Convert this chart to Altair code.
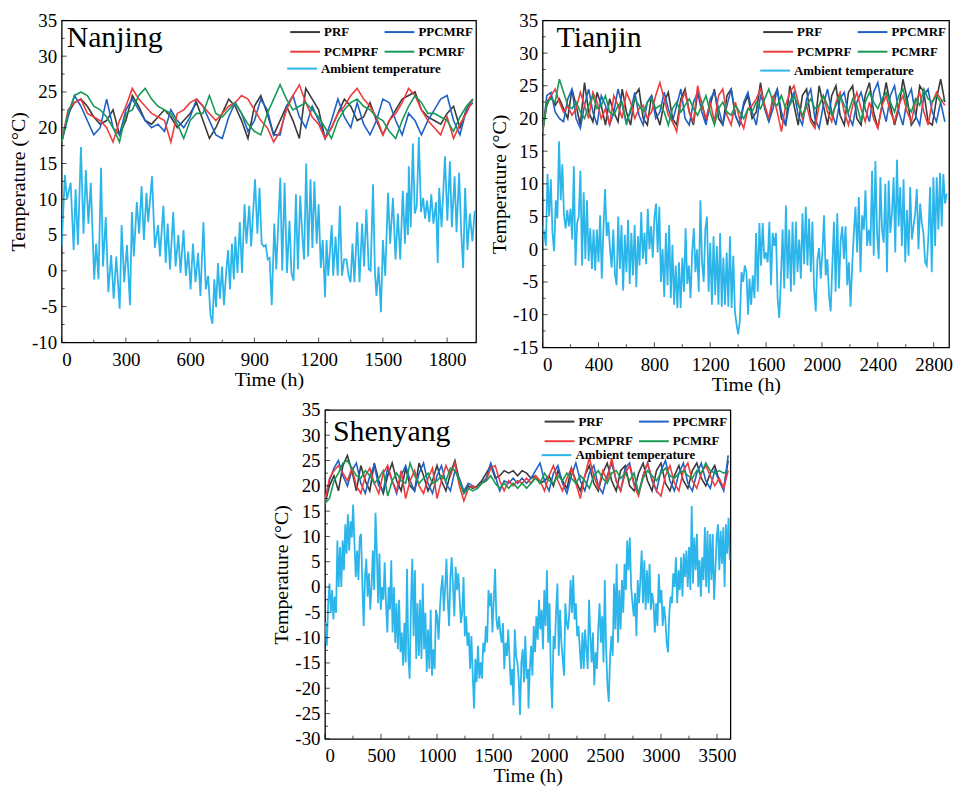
import altair as alt
import pandas as pd

FONT = "Liberation Serif"
# legend fills column by column: (PRF, PCMPRF) in column 1, (PPCMRF, PCMRF) in column 2
IN_NAMES = ["PRF", "PCMPRF", "PPCMRF", "PCMRF"]
IN_COLORS = ["#3a3a3a", "#f03c3c", "#1f62c6", "#179a55"]
AMB_NAME = "Ambient temperature"
AMB_COLOR = "#2cb5ea"

# ---------------- Nanjing ----------------
nj_amb_t = [0,15,25,42,56,65,76,90,102,113,125,136,152,161,172,184,193,206,218,231,
            243,255,271,280,292,305,319,328,337,351,362,373,384,396,404,422,435,450,459,475,
            486,495,506,521,532,545,555,569,580,591,602,613,625,637,648,662,673,684,695,704,
            713,721,730,739,749,758,767,777,786,795,804,811,821,832,842,854,863,876,885,903,
            914,924,934,944,953,962,971,981,993,1002,1021,1030,1041,1052,1064,1073,1083,1094,1103,1114,
            1125,1132,1142,1151,1162,1171,1180,1191,1200,1210,1219,1230,1237,1245,1261,1268,1279,1289,1299,1309,
            1319,1330,1340,1349,1358,1367,1380,1391,1403,1412,1423,1434,1443,1454,1463,1470,1480,1491,1500,1511,
            1524,1534,1547,1559,1570,1581,1593,1603,1612,1617,1621,1630,1640,1649,1658,1668,1678,1688,1697,1706,
            1717,1726,1736,1748,1756,1763,1774,1790,1801,1813,1822,1835,1844,1856,1866,1875,1884,1895,1906,1918,1929]
nj_amb_v = [3.4,13.4,10,12.3,2.9,11.4,3.6,17.3,5.2,14.1,6.6,12.3,-1.2,3.8,-1.2,14.4,0.6,7.5,-3,2.2,
            -3.9,2,-5.3,6.4,-1.6,3.6,-4.8,8.2,2,9.6,5.2,11.8,4.3,10.9,6.8,13.2,3.2,6.4,2,9.1,
            1.1,6.6,0.2,8.2,0.6,5,-0.3,5.7,-0.7,2.7,-2.6,3.8,-1.6,2.5,-3.5,6.8,-2.6,-0.7,-6.2,-7.4,
            -1.2,-5.1,1.1,-3.9,0.6,-4.8,-0.7,2.9,-2.6,3.8,-1.2,4.8,-0.3,6.8,-0.3,9.3,3.8,9.1,3.4,12.8,
            5.2,11.6,3.8,3.4,3.6,1.6,1.8,-4.8,6.6,0.2,13,0,12.3,-0.3,7,-0.3,-1.4,10.7,0.2,10.5,
            4.3,1.6,15,2,12.8,3.2,12.5,3.8,9.3,0.4,4.3,-3.7,4.3,-0.7,6.4,-0.7,4.8,-0.7,9.1,-0.7,
            1.6,1.6,-0.7,-1.6,3.8,-1.6,6.8,-1.6,6.6,0.6,8.6,0.2,0,12.1,-0.3,-3.5,0.6,-5.8,4.3,-0.7,
            10.9,3.8,10.2,1.6,8,1.6,11.2,3.8,10.9,5,14.6,6.1,17.8,8,9,18.7,8.2,10.2,7.3,9.8,
            6.8,10.7,6.6,9.6,1.1,11.6,6.1,16,7,15.3,6.1,13.2,5.4,13.7,5.2,0.4,11.6,2.9,8,4.1,8.4]
nj_step = 30
nj_prf = [18,22,23.5,24,23,21.5,20.5,21,22.5,19,21,24.5,23,21,20.5,21.5,22.5,21.5,20,21,
          22,23.5,21,18.5,20,22,24,23,21,18.5,23,24.5,22,19,21,23,21,18.5,25.5,24,
          22.5,18.5,20,22,24,23,21,21.5,23.5,21,19,21,22.5,24,24.5,25,22.5,21.5,21,20.5,
          22,23,20,22.5,24]
nj_ppcmrf = [18,21.5,24.5,23,21,19,20,24,20,19,22.5,24,22.5,21,20,20.5,19.5,22.5,21,20,
             21.5,24,23,21,19,18.5,21.5,23.5,22,19.5,21,24,22.5,19,19,23,24.5,21.5,20,23,
             21,18.5,21,24,21.5,20,23.5,20.5,19,21,24,23.5,21,19,22,21,19,21,22.5,24,
             24.5,21,19,22.5,23.5]
nj_pcmprf = [18,22.5,23.5,24,22,21.5,21,20,18,21,23,25.5,24,23,22,21.5,21,18,22,22.5,
             23.5,24,23,22,21,22,23,23.5,24.5,24,22.5,21,20,18,19.5,22.5,24.5,26,23.5,21.5,
             20.5,18.5,20,22,23,24.5,25.5,24,23,21.5,19,21,22,23.5,25.5,24.5,22.5,21,20,19,
             21.5,18.5,20.5,22,24]
nj_pcmrf = [18,22,24.5,25,24.5,23,22.5,21.5,20,18,22,22.5,24.5,25.5,24,23,22.5,22,20.5,18.5,
            21,22,22,24.5,22,21.5,22.5,23.5,22,20.5,19.5,19,22,24,26,24,22.5,23,23.5,22.5,
            21.5,20,18.5,21,22.5,23.5,24,23,22.5,21.5,21,19.5,18.5,21,23,24.5,23.5,22,22,21.5,
            21,19.5,21.5,23,24]

# ---------------- Tianjin ----------------
tj_amb1_span = [0, 1471]
tj_amb1_v = [3.5,2.5,0.5,11.5,5,10.7,2.5,-0.3,7.5,4.7,16.5,7.5,13,5.2,3.2,6,3.5,6.2,1.5,12.7,
             -2.5,4,5,12,-2.5,8.7,-1.5,7.5,-1.8,3.2,-3,3,-3.3,3,-2,5.2,-4.5,3,9.2,2,
             4.2,0,-2.8,3,-3.8,-5.5,5,-3,3.7,-6.3,2.2,-3.5,4.5,-5.3,2.5,-4,3.7,-5.8,2,-2.5,
             5.7,-1.5,2.5,-2.3,6.2,0,3.5,-1.3,4.7,7,-0.5,6.5,-5,0,-7.3,2.5,-5.5,3.7,-7.5,0.7,
             -8.5,-2.5,-9,-2,-9,-1.3,-6.5,3.2,-5.3,-2.5,-7.5,-0.5,3.2,-3.5,0,-6.5,7.5,-2,-5,3,
             5,-6.5,1,-8.5,2,-7,0.5,-8.5,2.5,-8.8,-1.3,-8.5,-0.5,-8.8,2,-9,-1,-9.5,-11.5,-13,
             -11,-3.5,-5,-2.5,-3.5,-10]
tj_amb2_span = [1481, 2893]
tj_amb2_v = [-4.5,-8.5,-4,-7.5,2.5,-6.5,4,-2.5,4,-1.5,-0.5,-2,4.2,-5.5,2.5,0.5,2.5,-7.5,-10.5,-4.5,
             3,-6,6.7,-4.5,3,-6.5,4.2,-5.5,4.2,-3.5,1.5,-4.5,5.5,-2.3,6.5,-2.5,4.7,-3.5,4.2,-6,
             -9.5,-1.5,0.2,-4.5,-0.5,5.2,-4,-1.5,-7,-9.5,-2.5,4.2,-6.5,5.5,-6,1.2,3.5,-1.5,3.5,-5.5,
             -2,-8.8,-2.5,2.5,6.5,-0.5,8,-3.5,5.2,3,9,0.5,3,0.5,12,-1,13.5,2.5,-1.5,11,
             3,1,10,-3.5,10.5,2.5,5.5,11,-0.5,13.7,3.5,9.5,0.5,10.7,-2,6,-1,9.5,1.5,3.5,
             5.5,9.2,0,7,4,2.5,-2,-2.5,2,9.5,-3.5,11,0.5,11,3,11.7,3.5,11.5,7,8.5]
tj_step = 30
tj_prf = [18,22,23.5,22,23,21.5,20,24.5,22,19,25.5,21,19.5,24,22,19,23,21,19.5,24.5,
          21,19,23.5,24.5,20,19,23.5,21,19,22.5,24,20,19,23,24.5,21,19,24,22.5,19.5,
          22,24.5,20,19,23.5,24.5,20.5,19,22,23.5,20,21,25.5,21.5,19.5,23,24.5,20,19,25,
          22,19,23.5,24.5,20,19,25,22,19,23.5,25,20.5,19,24,25,20,19,23.5,25.5,21,
          18.5,22,25.5,22,19,21.5,26,23,19,20,25,24,19.5,19,23,26,22.5]
tj_ppcmrf = [18,23.5,24,21,20,19.5,23,24.5,20,18.5,22,24.5,21,19,23.5,22,19,21,24.5,22,
             19.5,21,24,20.5,19,22.5,23.5,20,21,24,21.5,19.5,22,24.5,20,19,22.5,24,21,19,
             23,24,21.5,19,22,24.5,20.5,19,22.5,24,21,19,23.5,22,19.5,21.5,24.5,21,19,22.5,
             24,20.5,19,23,24.5,20,18.5,22,24.5,21,19,23,24,20.5,19,22.5,24,21.5,19.5,24,
             25.5,22,19.5,23.5,25,21,19,23,24.5,20.5,19,23.5,24.5,21,19.5,22.5,19.5]
tj_pcmprf = [18,22.5,23.5,24.5,22.5,21,22,20.5,21.5,24,22,20,24,22.5,20,21.5,19,23.5,22,20,
             24,22.5,20,21.5,22,20,21,23.5,25.5,23,20.5,19.5,18,22.5,24,21,19.5,25,22,20,
             22.5,19.5,23.5,24.5,20.5,19,22.5,20,18.5,21.5,22,23,24.5,22,20,23.5,21,18,22,24,
             25,22.5,20,22,19.5,18.5,22,23.5,21,19.5,22.5,24,21,19,22,24,21.5,19.5,22.5,20,
             18.5,22,23.5,21,19.5,22,23.5,21,19.5,22.5,24,21,19,22.5,24,23,22]
tj_pcmrf = [18,22.5,23,22.5,26,24,22,21.5,22.5,21,20,22,23.5,21.5,22,23.5,21,20.5,22,22.5,
            19,21.5,23,22,21,22.5,23,21.5,22,21,19,21.5,22.5,21,22,23,21.5,20.5,22,23.5,
            21,19,21.5,22.5,21,20.5,22,21,20,21.5,21,22.5,21.5,23,24.5,22.5,22,23.5,21.5,22,
            23.5,22,20.5,22,23,21.5,22,23.5,22,20.5,22,23.5,22,21,23,22,19.5,22.5,24,22.5,
            21.5,23,24,22.5,21,23.5,24.5,22,21,23,22,24.5,23,22.5,23.5,22.5,23]

# ---------------- Shenyang ----------------
sy_amb1_span = [5, 1812]
sy_amb1_v = [-7,-11.6,-3.2,0.7,-5.1,-0.6,-6.4,-1.9,-5.1,9.2,0,7.9,0,9.2,3.3,12.4,6.6,14.4,7.2,13,
             9.8,16.3,8.5,2,7.2,1.4,9.8,10.5,0.7,-7.7,2,5.6,-1.9,2.7,-4.5,0,7.2,-0.6,14.7,7.2,
             -3.2,6.6,-4.5,0,-2.5,4.9,-3.2,-9,0,-4.5,5.3,-9,0,-11,-3.2,-12.3,-2.5,-12.9,-9,-15.5,
             -7.1,-14.9,3.6,-13.6,-18.1,-3.2,5.6,-9.7,3.3,-14.2,-3.2,-13.6,-2.5,-14.2,0.7,-12.3,-5.1,-16.8,-8.4,-16.2,
             -4.5,-17.5,-12.3,-16.2,-4.5,-5.8,-10.4,-4.5,-0.3,2.3,-4.8,-0.3,5.6,-2.5,-7.7,2,5.9,0,-5.8,4,
             -0.6,2.7,-1.9,-7.1,-5.1,2,-9.7,-5.8,-11.6,-9,-16.2,-9.7,-17.5,-24,-14.2,-18.8,-11.6,-18.1,-14.9,-18.1,
             -11,-12.9,-7.7,-11,-0.6,-3.8,-1.2,-9,-2.5,3.6,-6.4,-8.4,-5.8,-9,-11,-7.1,-16.2,-11,-13.6,-8.4,
             -14.2,-19.4,-16.2,-23.4,-8.4,-13.6,-14.9,-18.1,-25.3,-14.9,-12.3,-18.8,-9.7,-18.1,-16.2]
sy_amb2_span = [1817, 3615]
sy_amb2_v = [-24,-16.2,-11.6,-17.5,-7.7,-12.9,-5.8,-10.4,-2.5,-8.4,-4.5,-12.3,-0.6,-7.7,3.3,-11,-3.2,-17.5,-24,-9.7,
             -12.3,-4.5,0.7,-13.6,-4.5,-11,-14.2,-17.5,-3.2,-7.1,-8.4,-5.1,1.4,-5.1,2.3,-6.4,-3.2,-9.7,-7.7,-12.3,
             -16.2,-9,-16.2,-8.4,-12.3,-16.2,-2.5,-9.7,-14.9,-9,-19.4,-12.9,-16.2,-8.4,-3.2,-11,-5.8,-14.9,1.4,-12.3,
             -19.4,-22.7,-13.6,-9.7,-13.6,0.7,-8.4,4.6,-11,-0.6,-8.4,1.4,-5.1,4.6,-0.6,9.2,3.3,9.8,0,-3.2,
             -5.8,-1.2,-9.7,1.4,-3.2,1.4,7.2,-3.2,5.3,-4.5,3.3,-3.2,4.6,-4.5,-1.2,-3.2,-9,-3.2,-7.7,2.6,
             -3.2,-0.6,-7.7,-3.8,-6.4,-11,-12.9,-5.1,-1.9,-3.2,2.7,0,5.9,-3.2,3.3,-0.6,5.9,-1.9,6.6,2,
             7.2,0,7.9,-0.6,16,0.7,9.8,3.3,10.5,0,5.3,-1.9,5.9,1.4,11.8,0,11.1,-1.2,10.5,1.4,
             10.5,-2.5,3.3,9.8,12.4,3.3,11.1,4.6,11.8,0,12.4,6.6,13.7,5.3]
sy_step = 40
sy_prf = [16.5,20,22,19,24,26,23,19,24,21,19,24.5,21,18.5,22,24.5,21,19,23.5,20,
          19,24.5,22,19,21,24,21,19,22.5,25,21,18.5,20,19.5,20,21,22.5,24,21.5,22,
          23,22.5,23,22,23,22.5,21.5,22,20.5,21,22,20,23,21,19.5,23.5,21,19,22,24,
          20.5,19,22.5,24.5,21,19,23,24,20,19,22.5,24.5,21,19,23,24.5,20.5,19,22,24,
          21,19.5,23,24.5,21.5,20,22.5,24,21,19.5,25]
sy_ppcmrf = [17,21,23.5,25,22,20,23,24.5,20.5,18.5,22,24,20,19,23.5,21,18.5,22,24,21,
             19,22.5,24.5,20.5,18.5,22,24,20.5,19,23,21.5,19,20.5,20,19.5,20.5,21.5,24.5,22,19,
             21,20.5,21.5,20.5,21.5,20.5,21.5,23,24.5,21,19,22.5,24,20.5,18.5,22,24.5,21,19,22.5,
             24,20,18.5,22,24.5,21,19,23.5,24.5,20.5,18.5,22,24.5,21,19,23,25,21,19,22.5,
             24.5,20.5,19,22.5,24.5,21,19.5,23,21,19,26]
sy_pcmprf = [17,21.5,23,24,22.5,21,23.5,20,18.5,22,23.5,20.5,18.5,22.5,24,21,19,23,17.5,21,
             23,20,18.5,21.5,23.5,17.5,21,24,22,24.5,20,17,19.5,20,19.5,20.5,21,23.5,24,21,
             19,21,20,21,20.5,21.5,20.5,22,21,19,22,24,21,19,21.5,23.5,20.5,17.5,22,25.5,
             22,19.5,23,21,25.5,21,19,22.5,24,20,18,22,24.5,21.5,19,18,22,24,20.5,19,
             23,24.5,21,19.5,22.5,24,22,20,21.5,19.5,23]
sy_pcmrf = [16.5,17.5,21,22.5,24.5,25,23.5,22,21.5,23,22,20.5,21.5,23,18,21,22.5,21,20.5,24.5,
            22,20.5,21.5,22.5,20.5,21,22,21,23.5,23,21,18.5,19.5,19,19.5,20.5,21,22,20.5,19.5,
            20.5,19.5,20.5,19.5,20.5,19.5,20.5,21.5,20.5,22.5,21,20.5,22,21,22.5,21.5,20.5,22,21,19.5,
            22,23,21.5,20.5,22.5,23,21.5,22.5,21,22.5,18.5,21.5,23,22,21,22.5,23.5,22,21.5,22.5,
            23,22,21.5,23,22.5,24.5,23,22.5,23,22.5,23]


def span_times(span, n):
    a, b = span
    return [a + (b - a) * i / (n - 1) for i in range(n)]


def indoor_frame(step, named_series):
    rows = []
    for name, vals in named_series:
        for i, v in enumerate(vals):
            rows.append({"t": i * step, "v": v, "s": name})
    return pd.DataFrame(rows)


def panel(name, amb_df, in_df, xdom, ydom, xticks, xminor, yticks, yminor, w, h,
          amb_leg_y, name_x, name_y):
    xs = alt.Scale(domain=xdom, nice=False, zero=False)
    ys = alt.Scale(domain=ydom, nice=False, zero=False)
    ax_font = dict(labelFont=FONT, titleFont=FONT, labelFontSize=19, titleFontSize=20,
                   titleFontWeight="normal", labelColor="black", titleColor="black")
    xaxis = alt.Axis(values=xticks, title="Time (h)", ticks=False, domain=False, grid=False,
                     labelPadding=8, titlePadding=0, labelExpr="datum.value + ''", **ax_font)
    yaxis = alt.Axis(values=yticks, title="Temperature (°C)", ticks=False, domain=False, grid=False,
                     labelPadding=5, titlePadding=3, labelExpr="datum.value + ''", **ax_font)
    leg_common = dict(title=None, symbolType="M-3,0H1", symbolSize=225,
                      symbolStrokeWidth=2, labelFont=FONT, labelFontWeight="bold", labelFontSize=13,
                      labelColor="black", padding=0, rowPadding=4, columnPadding=2,
                      labelOffset=3)
    X = alt.X("t:Q", scale=xs, axis=xaxis)
    Y = alt.Y("v:Q", scale=ys, axis=yaxis)
    indoor = alt.Chart(in_df).mark_line(strokeWidth=1.6, clip=True).encode(
        x=X, y=Y,
        color=alt.Color("s:N", scale=alt.Scale(domain=IN_NAMES, range=IN_COLORS),
                        sort=IN_NAMES,
                        legend=alt.Legend(columns=2, orient="top-right", offset=3, **leg_common)),
    )
    amb = alt.Chart(amb_df).mark_line(strokeWidth=1.8, clip=True).encode(
        x=X, y=Y,
        color=alt.Color("s:N", scale=alt.Scale(domain=[AMB_NAME], range=[AMB_COLOR]),
                        legend=alt.Legend(orient="none", legendX=w - 176, legendY=amb_leg_y,
                                          **leg_common)),
    )
    ymaj = alt.Chart(pd.DataFrame({"v": yticks})).mark_tick(size=5, thickness=1, color="black").encode(
        y=Y, x=alt.value(2.5))
    ymin = alt.Chart(pd.DataFrame({"v": yminor})).mark_tick(size=3, thickness=1, color="black").encode(
        y=Y, x=alt.value(1.5))
    xmaj = alt.Chart(pd.DataFrame({"t": xticks})).mark_tick(size=5, thickness=1, color="black").encode(
        x=X, y=alt.value(h - 2.5))
    xmin = alt.Chart(pd.DataFrame({"t": xminor})).mark_tick(size=3, thickness=1, color="black").encode(
        x=X, y=alt.value(h - 1.5))
    label = alt.Chart(pd.DataFrame({"name": [name]})).mark_text(
        align="left", baseline="alphabetic", font=FONT, fontSize=30, color="black").encode(
        x=alt.value(name_x), y=alt.value(name_y), text="name:N")
    return alt.layer(indoor, amb, ymaj, ymin, xmaj, xmin, label).resolve_scale(
        color="independent").properties(width=w, height=h)


SERIES = lambda prf, pp, pcmp, pcm: [("PRF", prf), ("PPCMRF", pp), ("PCMPRF", pcmp), ("PCMRF", pcm)]

nj_amb = pd.DataFrame({"t": nj_amb_t, "v": nj_amb_v, "s": AMB_NAME})
nj_in = indoor_frame(nj_step, SERIES(nj_prf, nj_ppcmrf, nj_pcmprf, nj_pcmrf))

tj_amb = pd.DataFrame({
    "t": span_times(tj_amb1_span, len(tj_amb1_v)) + span_times(tj_amb2_span, len(tj_amb2_v)),
    "v": tj_amb1_v + tj_amb2_v, "s": AMB_NAME})
tj_in = indoor_frame(tj_step, SERIES(tj_prf, tj_ppcmrf, tj_pcmprf, tj_pcmrf))

sy_amb = pd.DataFrame({
    "t": span_times(sy_amb1_span, len(sy_amb1_v)) + span_times(sy_amb2_span, len(sy_amb2_v)),
    "v": sy_amb1_v + sy_amb2_v, "s": AMB_NAME})
sy_in = indoor_frame(sy_step, SERIES(sy_prf, sy_ppcmrf, sy_pcmprf, sy_pcmrf))

p1 = panel("Nanjing", nj_amb, nj_in, [0, 1935], [-10, 35],
           [0, 300, 600, 900, 1200, 1500, 1800], [150, 450, 750, 1050, 1350, 1650],
           list(range(-10, 36, 5)), [-7.5 + 5 * i for i in range(9)], 417, 324, 40, 5, 27)
p2 = panel("Tianjin", tj_amb, tj_in, [0, 2910], [-15, 35],
           [0, 400, 800, 1200, 1600, 2000, 2400, 2800], [200, 600, 1000, 1400, 1800, 2200, 2600],
           list(range(-15, 36, 5)), [-12.5 + 5 * i for i in range(10)], 409, 329, 42, 14, 27)
p3 = panel("Shenyang", sy_amb, sy_in, [0, 3620], [-30, 35],
           [0, 500, 1000, 1500, 2000, 2500, 3000, 3500], [250, 750, 1250, 1750, 2250, 2750, 3250],
           list(range(-30, 36, 5)), [-27.5 + 5 * i for i in range(13)], 408, 331, 37, 8, 31)

spacer = alt.Chart(pd.DataFrame({"a": [0]})).mark_point(opacity=0).properties(
    width=211, height=10, view=alt.ViewBackground(strokeOpacity=0))

top = alt.hconcat(p1, p2, spacing=12)
bottom = alt.hconcat(spacer, p3, spacing=0)
chart = alt.vconcat(top, bottom, spacing=5).properties(
    padding={"left": 0, "top": 0, "right": 0, "bottom": 0}
).configure_axis(
    labelFont=FONT, titleFont=FONT, labelFontSize=19, titleFontSize=20,
    titleFontWeight="normal", labelColor="black", titleColor="black"
).configure_view(stroke="black", strokeWidth=1.3).configure_text(font=FONT)

chart.save("out.html", embed_options={"renderer": "svg", "actions": False})
